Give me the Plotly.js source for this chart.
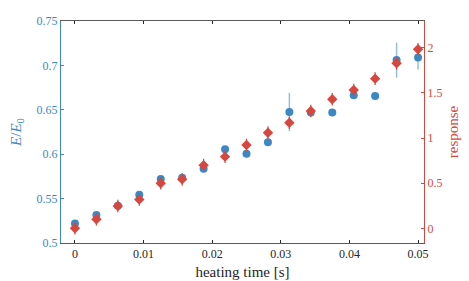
<!DOCTYPE html>
<html>
<head>
<meta charset="utf-8">
<script src="https://cdn.plot.ly/plotly-3.0.1.min.js"></script>
<style>html,body{margin:0;padding:0;background:#fff}#chart{width:469px;height:281px}</style>
</head>
<body>
<div id="chart"></div>
<script>
// heating time [s]
var heatingTime = [0, 0.003125, 0.00625, 0.009375, 0.0125, 0.015625, 0.01875, 0.021875, 0.025, 0.028125, 0.03125, 0.034375, 0.0375, 0.040625, 0.04375, 0.046875, 0.05];
// E/E0 (left axis)
var energyRatio = [0.522, 0.5315, 0.542, 0.5544, 0.572, 0.5735, 0.5837, 0.6055, 0.6006, 0.6134, 0.6475, 0.647, 0.647, 0.6663, 0.6655, 0.706, 0.709];
var energyErr = [0.003, 0.003, 0.003, 0.003, 0.003, 0.003, 0.003, 0.003, 0.003, 0.003, 0.0215, 0.003, 0.003, 0.003, 0.003, 0.0197, 0.0135];
// response (right axis)
var response = [0.0, 0.10, 0.247, 0.32, 0.50, 0.543, 0.70, 0.794, 0.923, 1.06, 1.17, 1.30, 1.43, 1.533, 1.659, 1.83, 1.985];
var responseErr = [0.07, 0.07, 0.07, 0.07, 0.07, 0.07, 0.07, 0.07, 0.07, 0.07, 0.07, 0.07, 0.07, 0.07, 0.07, 0.07, 0.07];
// ticks
var xTicks = [0, 0.01, 0.02, 0.03, 0.04, 0.05];
var xTickLabels = ["0", "0.01", "0.02", "0.03", "0.04", "0.05"];
var yTicks = [0.5, 0.55, 0.6, 0.65, 0.7, 0.75];
var yTickLabels = ["0.5", "0.55", "0.6", "0.65", "0.7", "0.75"];
var y2Ticks = [0, 0.5, 1, 1.5, 2];
var y2TickLabels = ["0", "0.5", "1", "1.5", "2"];

var BLUE = "#3b88c4";
var RED = "#d6473f";
var FONT = "Liberation Serif";

var traces = [
  {
    x: heatingTime, y: energyRatio, type: "scatter", mode: "markers",
    marker: {symbol: "circle", size: 8, color: BLUE},
    error_y: {type: "data", array: energyErr, visible: true, color: "rgba(59,136,196,0.55)", thickness: 1.5, width: 0},
    yaxis: "y", showlegend: false, hoverinfo: "skip"
  },
  {
    x: heatingTime, y: response, type: "scatter", mode: "markers",
    marker: {symbol: "diamond", size: 8, color: RED},
    error_y: {type: "data", array: responseErr, visible: true, color: RED, thickness: 1.2, width: 0},
    yaxis: "y2", showlegend: false, hoverinfo: "skip"
  }
];

var layout = {
  width: 469, height: 281,
  margin: {l: 61, r: 45, t: 21, b: 38, pad: 0},
  paper_bgcolor: "#fff", plot_bgcolor: "#fff",
  font: {family: FONT, size: 12, color: "#262626"},
  showlegend: false,
  xaxis: {
    range: [-0.002035, 0.05087],
    tickvals: xTicks, ticktext: xTickLabels,
    ticks: "inside", ticklen: 3, tickwidth: 1, tickcolor: "#262626",
    showline: true, linecolor: "#5a5a5a", linewidth: 1, mirror: "ticks",
    showgrid: false, zeroline: false,
    tickfont: {family: FONT, size: 12, color: "#262626"},
    title: {text: "heating time [s]", font: {family: FONT, size: 15, color: "#262626"}, standoff: 6}
  },
  yaxis: {
    range: [0.5, 0.75],
    tickvals: yTicks, ticktext: yTickLabels,
    ticks: "inside", ticklen: 3, tickwidth: 1, tickcolor: BLUE,
    showline: true, linecolor: BLUE, linewidth: 1,
    showgrid: false, zeroline: false,
    tickfont: {family: FONT, size: 12, color: BLUE},
    title: {text: "<i>E</i>/<i>E</i><sub>0</sub>", font: {family: FONT, size: 15, color: BLUE}, standoff: 11}
  },
  yaxis2: {
    overlaying: "y", side: "right",
    range: [-0.163, 2.298],
    tickvals: y2Ticks, ticktext: y2TickLabels,
    ticks: "inside", ticklen: 3, tickwidth: 1, tickcolor: RED,
    showline: true, linecolor: RED, linewidth: 1,
    showgrid: false, zeroline: false,
    tickfont: {family: FONT, size: 12, color: RED},
    title: {text: "response", font: {family: FONT, size: 15, color: RED}, standoff: 6}
  }
};

Plotly.newPlot("chart", traces, layout, {staticPlot: true, displayModeBar: false});
</script>
</body>
</html>
